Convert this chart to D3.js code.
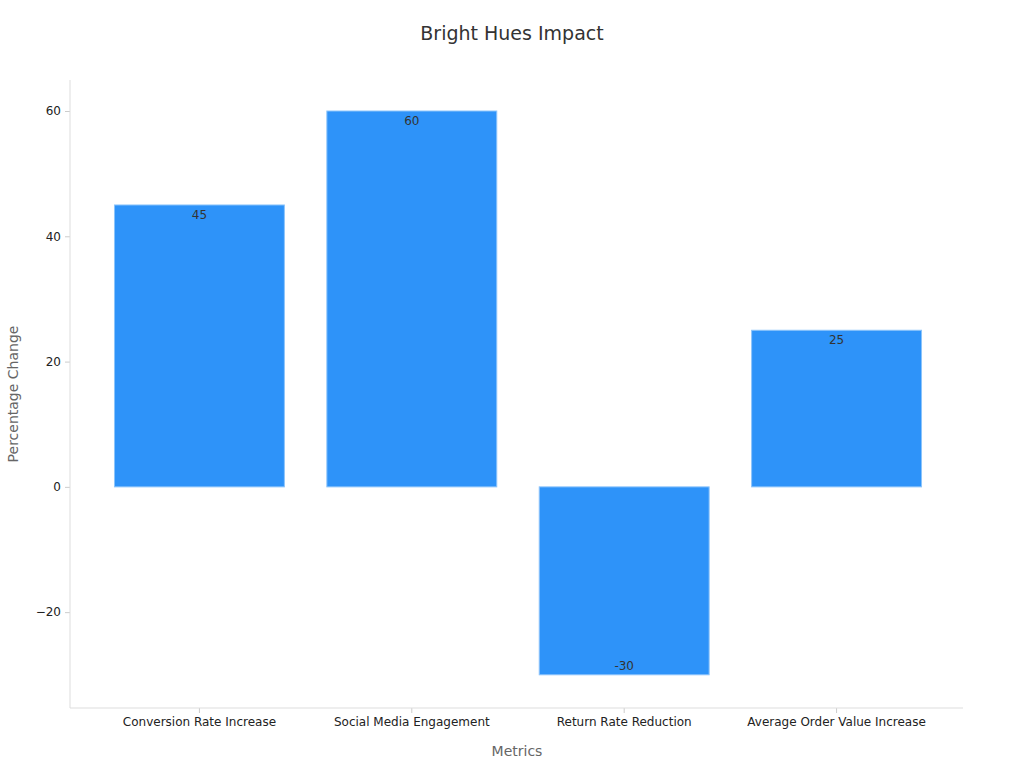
<!DOCTYPE html>
<html><head><meta charset="utf-8">
<script src="https://cdn.jsdelivr.net/npm/d3@7"></script>
<style>body{margin:0;background:#fff;font-family:"DejaVu Sans",sans-serif;}</style>
</head><body><svg id="c" width="1024" height="768"></svg>
<script>
const categories=["Conversion Rate Increase","Social Media Engagement","Return Rate Reduction","Average Order Value Increase"];
const values=[45,60,-30,25];
const yTicks=[-20,0,20,40,60];
const svg=d3.select("#c");
const L=70,R=963,T=80,B=708;
const x=d3.scaleBand().domain(categories).range([72,964]).padding(0.2);
const y=d3.scaleLinear().domain([-35.3,64.95]).range([B,T]);
svg.append("text").attr("x",512).attr("y",40).attr("text-anchor","middle").attr("font-size",19).attr("fill","#333").text("Bright Hues Impact");
svg.selectAll("rect.bar").data(values).enter().append("rect")
 .attr("x",(d,i)=>x(categories[i])).attr("width",x.bandwidth())
 .attr("y",d=>y(Math.max(0,d))).attr("height",d=>Math.abs(y(d)-y(0)))
 .attr("fill","#2e93f9").attr("stroke","#8cc4fb").attr("stroke-width",1);
svg.selectAll("text.v").data(values).enter().append("text")
 .attr("x",(d,i)=>x(categories[i])+x.bandwidth()/2)
 .attr("y",d=>d>=0?y(d)+14:y(d)-5)
 .attr("text-anchor","middle").attr("font-size",12).attr("fill","#333").text(d=>d);
const ya=svg.append("g").attr("transform",`translate(${L},0)`).call(d3.axisLeft(y).tickValues(yTicks).tickSize(5).tickPadding(4).tickFormat(d3.format("d")));
const xa=svg.append("g").attr("transform",`translate(0,${B})`).call(d3.axisBottom(x).tickSize(5).tickPadding(4));
[ya,xa].forEach(a=>{a.selectAll("text").attr("font-size",12).attr("fill","#222").attr("font-family","DejaVu Sans");a.selectAll("line").attr("stroke","#ccc");a.select(".domain").remove();});
ya.selectAll("text").text(d=>d<0?"\u2212"+Math.abs(d):d);
svg.append("line").attr("x1",L).attr("x2",L).attr("y1",T).attr("y2",B).attr("stroke","#ddd");
svg.append("line").attr("x1",L).attr("x2",R).attr("y1",B).attr("y2",B).attr("stroke","#ddd");
svg.append("text").attr("x",517).attr("y",756).attr("text-anchor","middle").attr("font-size",14).attr("fill","#666").text("Metrics");
svg.append("text").attr("transform","translate(18,394) rotate(-90)").attr("text-anchor","middle").attr("font-size",14).attr("fill","#666").text("Percentage Change");
</script></body></html>
